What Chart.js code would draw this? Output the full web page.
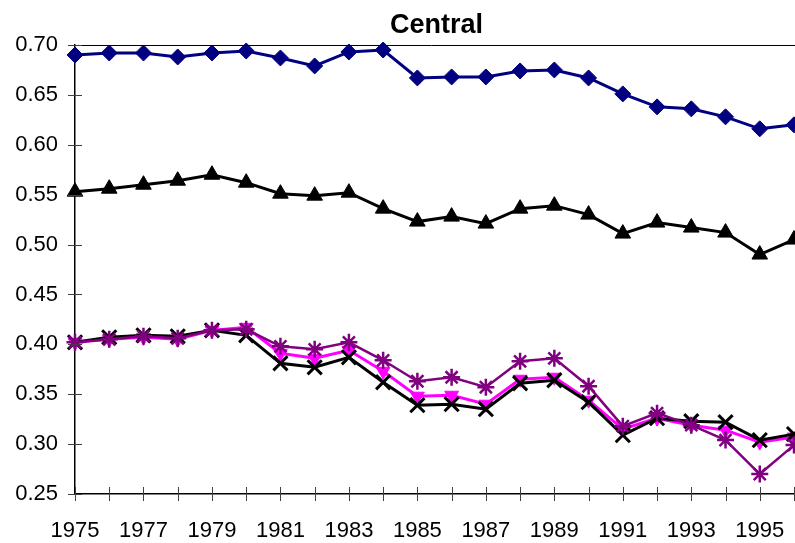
<!DOCTYPE html>
<html>
<head>
<meta charset="utf-8">
<script src="https://cdn.jsdelivr.net/npm/chart.js@4/dist/chart.umd.min.js"></script>
<style>
  html, body { margin: 0; padding: 0; background: #ffffff; overflow: hidden; }
  #wrap { width: 795px; height: 543px; position: relative; }
</style>
</head>
<body>
<div id="wrap"><canvas id="c" width="795" height="543"></canvas></div>
<script>
// Years on the category axis; only odd years carry a printed label
const years = ['1975','1976','1977','1978','1979','1980','1981','1982','1983','1984','1985',
               '1986','1987','1988','1989','1990','1991','1992','1993','1994','1995','1996'];
const labelledYears = ['1975','1977','1979','1981','1983','1985','1987','1989','1991','1993','1995'];
const yTicks = [0.25, 0.30, 0.35, 0.40, 0.45, 0.50, 0.55, 0.60, 0.65, 0.70];

const seriesDiamond = [0.690,0.692,0.692,0.688,0.692,0.694,0.687,0.679,0.693,0.695,0.667,
                       0.668,0.668,0.674,0.675,0.667,0.651,0.638,0.636,0.628,0.616,0.620];
const seriesTriangle = [0.553,0.556,0.560,0.564,0.570,0.562,0.551,0.549,0.552,0.536,0.523,
                        0.528,0.521,0.536,0.539,0.530,0.511,0.522,0.517,0.512,0.490,0.505];
const seriesCross = [0.402,0.407,0.409,0.408,0.414,0.409,0.381,0.377,0.387,0.362,0.339,
                     0.340,0.335,0.361,0.364,0.342,0.309,0.326,0.323,0.322,0.304,0.310];
const seriesMagenta = [0.402,0.405,0.407,0.405,0.414,0.417,0.391,0.386,0.394,0.373,0.348,
                       0.349,0.340,0.365,0.367,0.344,0.315,0.326,0.319,0.314,0.302,0.307];
const seriesStar = [0.402,0.405,0.408,0.406,0.414,0.415,0.398,0.395,0.402,0.384,0.363,
                    0.367,0.357,0.383,0.386,0.358,0.318,0.331,0.319,0.304,0.270,0.299];

const FONT = 'Liberation Sans, Arial, sans-serif';

// Tick marks that cross the axis lines, the top frame line and the centred title
const framePlugin = {
  id: 'frame',
  afterDraw(chart) {
    const ctx = chart.ctx;
    const area = chart.chartArea;
    const xs = chart.scales.x, ys = chart.scales.y;
    ctx.save();
    // top frame line
    ctx.strokeStyle = '#000000';
    ctx.lineWidth = 1;
    ctx.beginPath();
    ctx.moveTo(area.left - 7, area.top + 0.5);
    ctx.lineTo(chart.width, area.top + 0.5);
    ctx.stroke();
    // y ticks
    ctx.strokeStyle = '#404040';
    ctx.lineWidth = 1;
    ys.ticks.forEach((t, i) => {
      const y = Math.round(ys.getPixelForTick(i)) + 0.5;
      ctx.beginPath();
      ctx.moveTo(area.left - 7, y);
      ctx.lineTo(area.left + 7, y);
      ctx.stroke();
    });
    // x ticks
    xs.ticks.forEach((t, i) => {
      const x = Math.round(xs.getPixelForTick(i)) + 0.5;
      ctx.beginPath();
      ctx.moveTo(x, area.bottom - 7);
      ctx.lineTo(x, area.bottom + 7);
      ctx.stroke();
    });
    // title
    ctx.fillStyle = '#000000';
    ctx.font = 'bold 27px ' + FONT;
    ctx.textAlign = 'center';
    ctx.textBaseline = 'alphabetic';
    ctx.fillText('Central', (area.left + area.right) / 2 + 2, 33);
    ctx.restore();
  }
};

const common = { fill: false, tension: 0, clip: false, pointHoverRadius: 0 };

new Chart(document.getElementById('c'), {
  type: 'line',
  data: {
    labels: years,
    datasets: [
      Object.assign({ label: 'Series 1', data: seriesDiamond, borderColor: '#000080', backgroundColor: '#000080',
        borderWidth: 3, pointStyle: 'rectRot', pointRadius: 8, pointBorderWidth: 1 }, common),
      Object.assign({ label: 'Series 2', data: seriesTriangle, borderColor: '#000000', backgroundColor: '#000000',
        borderWidth: 3, pointStyle: 'triangle', pointRadius: 9, pointBorderWidth: 1 }, common),
      Object.assign({ label: 'Series 5', data: seriesStar, borderColor: '#800080', backgroundColor: '#800080',
        borderWidth: 2.5, pointStyle: 'star', pointRadius: 8.5, pointBorderWidth: 2.5 }, common),
      Object.assign({ label: 'Series 3', data: seriesCross, borderColor: '#000000', backgroundColor: '#000000',
        borderWidth: 3, pointStyle: 'crossRot', pointRadius: 10, pointBorderWidth: 3 }, common),
      Object.assign({ label: 'Series 4', data: seriesMagenta, borderColor: '#FF00FF', backgroundColor: '#FF00FF',
        borderWidth: 3, pointStyle: 'triangle', pointRotation: 180, pointRadius: 8, pointBorderWidth: 1 }, common)
    ]
  },
  options: {
    responsive: false,
    animation: false,
    events: [],
    layout: { autoPadding: false, padding: { top: 45, right: 1, bottom: 0, left: 0 } },
    plugins: { legend: { display: false }, title: { display: false }, tooltip: { enabled: false } },
    scales: {
      x: {
        type: 'category',
        offset: false,
        grid: { display: false, drawTicks: false },
        border: { display: true, color: '#000000', width: 1.5 },
        ticks: {
          autoSkip: false, maxRotation: 0, minRotation: 0, padding: 24,
          color: '#000000', font: { family: FONT, size: 22 },
          callback(v, i) { const y = years[i]; return labelledYears.includes(y) ? y : ''; }
        },
        afterFit(s) { s.height = 49; s.paddingRight = 0; s.paddingLeft = 0; }
      },
      y: {
        min: 0.25, max: 0.70,
        grid: { display: false, drawTicks: false },
        border: { display: true, color: '#000000', width: 1.5 },
        afterBuildTicks(s) { s.ticks = yTicks.map(v => ({ value: v })); },
        ticks: {
          padding: 17, color: '#000000', font: { family: FONT, size: 22 },
          callback(v) { return Number(v).toFixed(2); }
        },
        afterFit(s) { s.width = 75; s.paddingTop = 0; s.paddingBottom = 0; }
      }
    }
  },
  plugins: [framePlugin]
});
</script>
</body>
</html>
